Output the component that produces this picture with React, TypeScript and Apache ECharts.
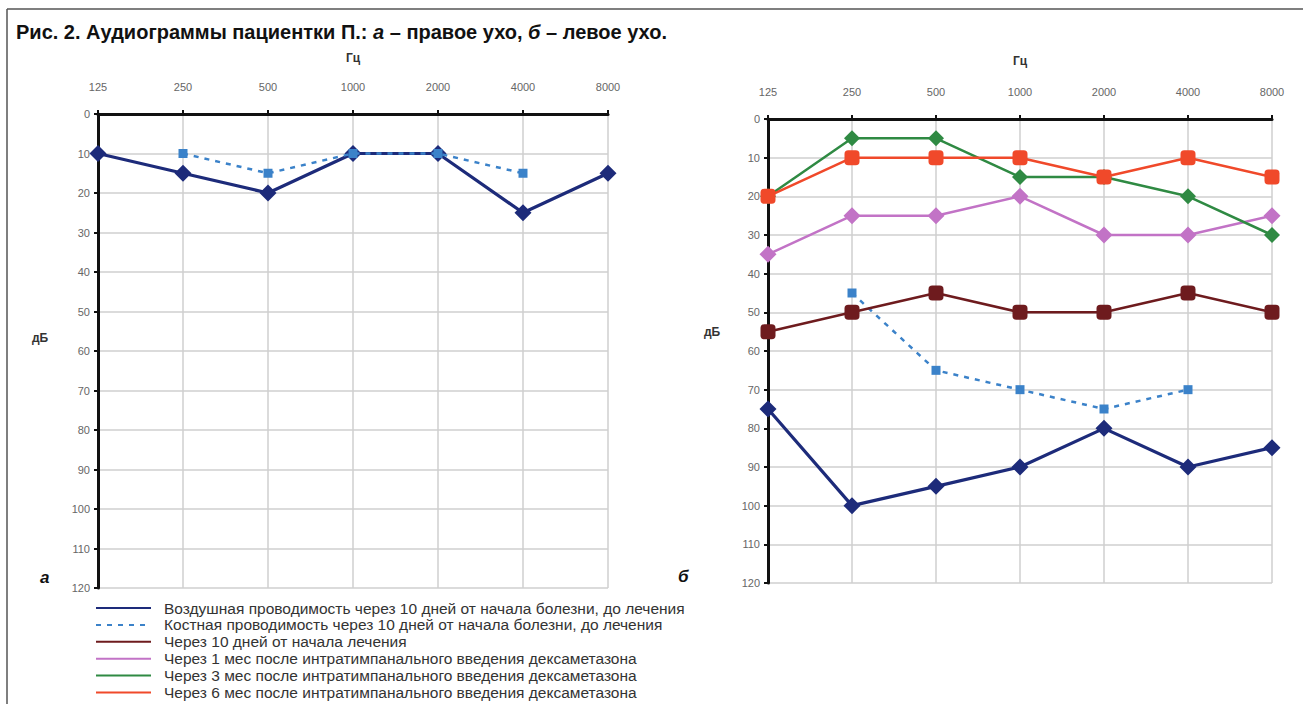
import React, { useEffect, useRef } from "react";
import * as echarts from "echarts";

const freqs = ["125", "250", "500", "1000", "2000", "4000", "8000"];
const yTicks = { min: 0, max: 120, interval: 10 };

const seriesNames = [
  "Воздушная проводимость через 10 дней от начала болезни, до лечения",
  "Костная проводимость через 10 дней от начала болезни, до лечения",
  "Через 10 дней от начала лечения",
  "Через 1 мес после интратимпанального введения дексаметазона",
  "Через 3 мес после интратимпанального введения дексаметазона",
  "Через 6 мес после интратимпанального введения дексаметазона",
];

// Right ear (а)
const rightAir = [10, 15, 20, 10, 10, 25, 15];
const rightBone = [null, 10, 15, 10, 10, 15, null];

// Left ear (б)
const leftAir = [75, 100, 95, 90, 80, 90, 85];
const leftBone = [null, 45, 65, 70, 75, 70, null];
const left10d = [55, 50, 45, 50, 50, 45, 50];
const left1m = [35, 25, 25, 20, 30, 30, 25];
const left3m = [20, 5, 5, 15, 15, 20, 30];
const left6m = [20, 10, 10, 10, 15, 10, 15];

const colors = ["#1d2b7a", "#3b82c9", "#6e1b1e", "#c273c6", "#2f8a43", "#f0492a"];
const symbols = ["diamond", "rect", "roundRect", "diamond", "diamond", "roundRect"];
const symbolSizes = [17, 9, 15, 17, 16, 15];

export default function App() {
  const ref = useRef<HTMLDivElement>(null);
  useEffect(() => {
    document.body.style.margin = "0";
    const chart = echarts.init(ref.current!, null, { renderer: "svg" });
    const font = "Liberation Sans, Arial, sans-serif";

    const mkX = (gridIndex: number) => ({
      type: "category",
      gridIndex,
      data: freqs,
      position: "top",
      boundaryGap: false,
      name: "Гц",
      nameLocation: "middle",
      nameGap: gridIndex === 0 ? 50 : 52,
      nameTextStyle: { color: "#333", fontSize: 12, fontWeight: "bold", fontFamily: font },
      axisLine: { show: true, lineStyle: { color: "#111", width: 3 } },
      axisTick: { show: true, length: 4, lineStyle: { color: "#111", width: 2 } },
      axisLabel: { color: "#666", fontSize: 11, margin: 22, fontFamily: font },
      splitLine: { show: true, lineStyle: { color: "#cfcfcf", width: 1.5 } },
    });
    const mkY = (gridIndex: number) => ({
      type: "value",
      gridIndex,
      inverse: true,
      min: yTicks.min,
      max: yTicks.max,
      interval: yTicks.interval,
      axisLine: { show: true, onZero: false, lineStyle: { color: "#111", width: 3 } },
      axisTick: { show: true, length: 4, lineStyle: { color: "#111", width: 2 } },
      axisLabel: { color: "#666", fontSize: 11, margin: 8, fontFamily: font },
      splitLine: { show: true, lineStyle: { color: "#cfcfcf", width: 1.5 } },
    });

    const mkSeries = (idx: number, data: (number | null)[], grid: number) => ({
      type: "line",
      name: seriesNames[idx],
      xAxisIndex: grid,
      yAxisIndex: grid,
      data,
      color: colors[idx],
      symbol: symbols[idx],
      symbolSize: symbolSizes[idx],
      showAllSymbol: true,
      connectNulls: false,
      lineStyle: {
        color: colors[idx],
        width: idx === 0 ? 3.2 : 2.5,
        type: idx === 1 ? [5, 6] : "solid",
      },
      itemStyle: { color: colors[idx] },
      z: 2 + idx,
    });

    chart.setOption({
      animation: false,
      backgroundColor: "#ffffff",
      textStyle: { fontFamily: font },
      grid: [
        { left: 98, top: 114, width: 510, height: 474 },
        { left: 768, top: 119, width: 504, height: 464 },
      ],
      xAxis: [mkX(0), mkX(1)],
      yAxis: [mkY(0), mkY(1)],
      legend: {
        orient: "vertical",
        left: 95,
        top: 600,
        height: 140,
        itemWidth: 55,
        itemHeight: 12,
        itemGap: 0.9,
        padding: 0,
        selectedMode: false,
        itemStyle: { opacity: 0 },
        textStyle: { color: "#333", fontSize: 15.5, fontFamily: font, lineHeight: 14, padding: [0, 0, 0, 8] },
        data: seriesNames,
      },
      series: [
        mkSeries(0, rightAir, 0),
        mkSeries(1, rightBone, 0),
        mkSeries(0, leftAir, 1),
        mkSeries(1, leftBone, 1),
        mkSeries(2, left10d, 1),
        mkSeries(3, left1m, 1),
        mkSeries(4, left3m, 1),
        mkSeries(5, left6m, 1),
      ],
      graphic: [
        { type: "line", shape: { x1: 7, y1: 9, x2: 1303, y2: 9 }, style: { stroke: "#555", lineWidth: 1.5 } },
        { type: "line", shape: { x1: 7, y1: 9, x2: 7, y2: 704 }, style: { stroke: "#555", lineWidth: 1.5 } },
        {
          type: "text",
          left: 16,
          top: 22,
          style: {
            text: "{b|Рис. 2. Аудиограммы пациентки П.: }{i|а}{b| – правое ухо, }{i|б}{b| – левое ухо.}",
            rich: {
              b: { fontSize: 20, fontWeight: "bold", fill: "#111", fontFamily: font },
              i: { fontSize: 20, fontWeight: "bold", fontStyle: "italic", fill: "#111", fontFamily: font },
            },
          },
        },
        {
          type: "text",
          x: 40,
          y: 338,
          style: { text: "дБ", fontSize: 12, fontWeight: "bold", fill: "#333", fontFamily: font, align: "center", verticalAlign: "middle" },
        },
        {
          type: "text",
          x: 712,
          y: 332,
          style: { text: "дБ", fontSize: 12, fontWeight: "bold", fill: "#333", fontFamily: font, align: "center", verticalAlign: "middle" },
        },
        {
          type: "text",
          left: 40,
          top: 569,
          style: { text: "а", fontSize: 17, fontWeight: "bold", fontStyle: "italic", fill: "#111", fontFamily: font },
        },
        {
          type: "text",
          left: 678,
          top: 568,
          style: { text: "б", fontSize: 17, fontWeight: "bold", fontStyle: "italic", fill: "#111", fontFamily: font },
        },
      ],
    });
    return () => chart.dispose();
  }, []);
  return <div ref={ref} style={{ width: 1303, height: 704 }} />;
}
